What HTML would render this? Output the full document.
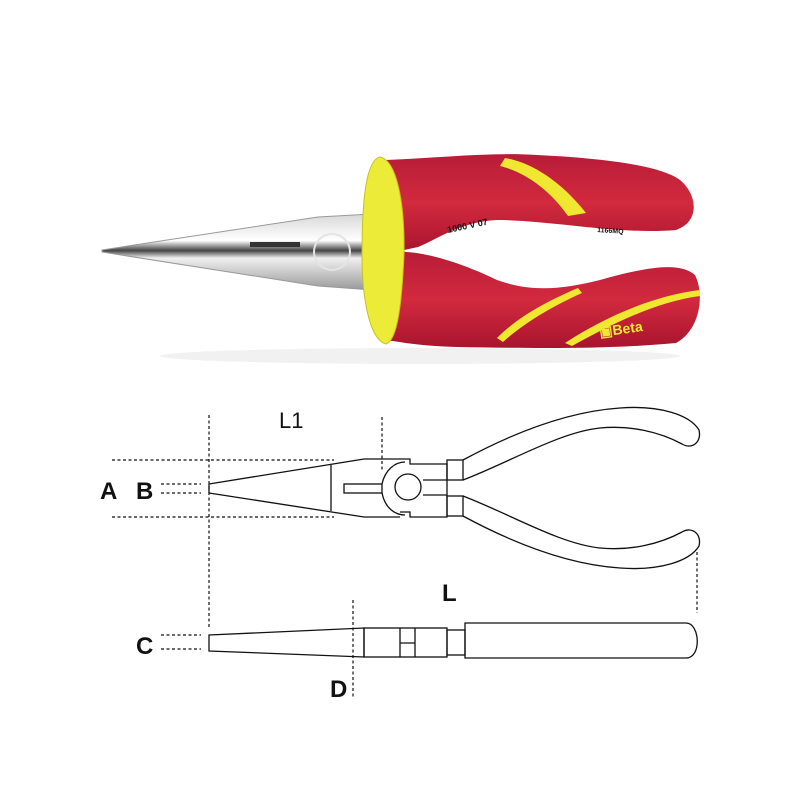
<!DOCTYPE html>
<html><head><style>
html,body{margin:0;padding:0;background:#fff;}
svg{display:block}
text{font-family:"Liberation Sans",Arial,sans-serif;font-weight:bold;fill:#111}
</style></head><body>
<svg width="800" height="800" viewBox="0 0 800 800" xmlns="http://www.w3.org/2000/svg">
<defs>
<linearGradient id="metal" x1="0" y1="0" x2="0" y2="1">
<stop offset="0" stop-color="#d8d8d8"/><stop offset="0.35" stop-color="#ffffff"/><stop offset="0.48" stop-color="#444"/><stop offset="0.58" stop-color="#f0f0f0"/><stop offset="1" stop-color="#999"/>
</linearGradient>
<linearGradient id="red" x1="0" y1="0" x2="0" y2="1">
<stop offset="0" stop-color="#b81c38"/><stop offset="0.5" stop-color="#d22a3e"/><stop offset="1" stop-color="#a8142e"/>
</linearGradient>
</defs>
<!-- photo -->
<ellipse cx="420" cy="356" rx="260" ry="8" fill="#f1f1f1"/>
<path d="M102,250 L318,217 L372,214 L372,290 L318,286 L102,252 Z" fill="url(#metal)" stroke="#999" stroke-width="1"/>
<rect x="250" y="242" width="50" height="5" fill="#333"/>
<circle cx="332" cy="252" r="18" fill="none" stroke="#e4e4e4" stroke-width="2"/>
<path d="M386,160 C440,158 490,152 537,155 C600,158 660,165 680,180 C698,195 700,222 676,230 C620,235 550,220 497,220 C460,222 440,238 418,247 L395,252 Z" fill="url(#red)"/>
<path d="M395,252 C420,250 460,262 497,280 C530,292 560,290 600,280 C650,266 680,262 695,275 C705,295 700,330 676,343 C600,350 520,348 457,347 C420,346 400,342 386,340 Z" fill="url(#red)"/>
<path d="M505,158 C530,162 560,180 586,213 L568,216 C550,190 525,172 500,166 Z" fill="#f0e830"/>
<path d="M497,338 C520,315 550,300 578,288 L582,293 C555,305 525,322 503,342 Z" fill="#f0e830"/>
<path d="M565,343 C600,320 650,296 700,290 L700,296 C655,302 610,325 572,346 Z" fill="#f0e830"/>
<path d="M380,157 C396,160 405,200 404,255 C402,300 398,340 386,344 C370,340 362,300 362,255 C362,200 366,160 380,157 Z" fill="#ecec38" stroke="#c8c020" stroke-width="1"/>
<text x="600" y="337" font-size="14" style="fill:#f0e830" transform="rotate(-8 600 337)">▣Beta</text>
<text x="448" y="233" font-size="9" transform="rotate(-12 448 233)">1000 V 07</text>
<text x="597" y="232" font-size="7" transform="rotate(4 597 232)">1166MQ</text>

<!-- drawing -->
<g fill="none" stroke="#111" stroke-width="1.3">
<path d="M209,484 L364,459 L400,459 M209,493 L364,517 L400,517 M209,484 L209,493"/>
<path d="M331,465 L331,511"/>
<rect x="344" y="484" width="38" height="9"/>
<path d="M400,459 L410,459 L410,464 L447,464 L447,517 L410,517 L410,512 L400,512"/>
<path d="M382,484 C385,470 395,462 405,462 M382,493 C385,508 395,515 405,515"/>
<ellipse cx="408" cy="487" rx="13" ry="13"/>
<path d="M423,480 L447,480 M423,495 L447,495"/>
<rect x="447" y="460" width="16" height="20"/>
<rect x="447" y="496" width="16" height="20"/>
<path d="M463,460 C500,440 560,412 620,408 C660,405 690,415 699,430 C702,442 692,450 682,444 C660,432 630,425 600,428 C560,432 510,462 463,480"/>
<path d="M463,516 C500,536 560,564 620,568 C660,571 690,561 699,546 C702,534 692,526 682,532 C660,544 630,551 600,548 C560,544 510,514 463,496"/>
<path d="M209,635 L364,628 L364,657 L209,651 Z"/>
<rect x="364" y="628" width="83" height="29"/>
<path d="M400,628 L400,657 M415,628 L415,657 M400,643 L415,643"/>
<rect x="447" y="630" width="18" height="25"/>
<path d="M465,623 L686,623 C700,623 702,658 686,658 L465,658 Z"/>
</g>
<g fill="none" stroke="#111" stroke-width="1.2" stroke-dasharray="3,2.5">
<path d="M209,415 L209,627"/>
<path d="M382,417 L382,472"/>
<path d="M112,460 L334,460 M112,517 L334,517"/>
<path d="M161,484 L201,484 M161,493 L201,493"/>
<path d="M161,635 L201,635 M161,649 L201,649"/>
<path d="M353,600 L353,698"/>
<path d="M697,552 L697,613"/>
</g>
<text x="100" y="499" font-size="24">A</text>
<text x="136" y="499" font-size="24">B</text>
<text x="136" y="654" font-size="24">C</text>
<text x="330" y="697" font-size="24">D</text>
<text x="279" y="428" font-size="22" style="font-weight:normal">L1</text>
<text x="442" y="601" font-size="24">L</text>
</svg>
</body></html>
